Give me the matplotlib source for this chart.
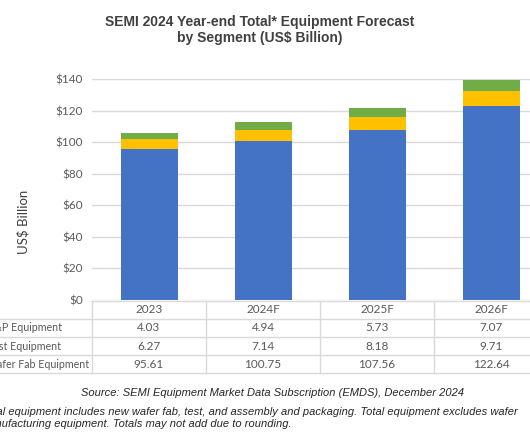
import matplotlib
matplotlib.use("Agg")
import matplotlib.pyplot as plt
from matplotlib.lines import Line2D

categories = ["2023", "2024F", "2025F", "2026F"]
wafer_fab = [95.61, 100.75, 107.56, 122.64]
test_eq = [6.27, 7.14, 8.18, 9.71]
ap_eq = [4.03, 4.94, 5.73, 7.07]
row_labels = ["A&P Equipment", "Test Equipment", "Wafer Fab Equipment"]
row_values = [ap_eq, test_eq, wafer_fab]
row_fmt = ["{:.2f}", "{:.2f}", "{:.2f}"]
yticks = [0, 20, 40, 60, 80, 100, 120, 140]

W, H = 530, 442
fig = plt.figure(figsize=(W / 100, H / 100), dpi=100)
fig.patch.set_facecolor("white")

def fx(px):
    return px / W

def fy(py):
    return 1 - py / H

txt_font = ["Lato", "DejaVu Sans"]
head_font = ["Liberation Sans", "DejaVu Sans"]
grey = "#595959"
dark = "#404040"
gridc = "#d9d9d9"

# main axes
x0, x1 = 92, 548
ytop, ybot = 79, 300
ax = fig.add_axes([fx(x0), fy(ybot), fx(x1) - fx(x0), (ybot - ytop) / H])
xs = list(range(len(categories)))
bw = 0.5
ax.bar(xs, wafer_fab, bw, color="#4472C4", zorder=3)
b2 = [a for a in wafer_fab]
ax.bar(xs, test_eq, bw, bottom=b2, color="#FFC000", zorder=3)
b3 = [a + b for a, b in zip(wafer_fab, test_eq)]
ax.bar(xs, ap_eq, bw, bottom=b3, color="#70AD47", zorder=3)
ax.set_xlim(-0.5, len(categories) - 0.5)
ax.set_ylim(0, 140)
ax.set_yticks(yticks)
ax.set_yticklabels(["${}".format(v) for v in yticks], fontsize=8.5, color=grey, family=txt_font)
ax.tick_params(axis="y", length=0, pad=6.5)
ax.set_xticks([])
ax.grid(axis="y", color=gridc, linewidth=1, zorder=0)
for s in ax.spines.values():
    s.set_visible(False)
ax.set_facecolor("none")

# y label
fig.text(fx(23), fy(222), "US$ Billion", rotation=90, ha="center", va="center",
         fontsize=9.5, color=dark, family=txt_font)

# title
fig.text(fx(260), fy(22), "SEMI 2024 Year-end Total* Equipment Forecast",
         ha="center", va="center", fontsize=10, fontweight="bold", color=dark, family=head_font)
fig.text(fx(260), fy(38), "by Segment (US$ Billion)",
         ha="center", va="center", fontsize=10, fontweight="bold", color=dark, family=head_font)

# data table
tab = fig.add_axes([fx(x0), fy(373), fx(x1) - fx(x0), (373 - 301) / H])
tab.set_xlim(-0.5, len(categories) - 0.5)
tab.set_ylim(373, 301)
tab.axis("off")
row_lines = [301, 318.5, 337, 355, 373]
tab.add_line(Line2D([-0.5, len(categories) - 0.5], [301, 301], color=gridc, lw=1, clip_on=False))
for yl in row_lines[1:]:
    tab.plot([-2.0, len(categories) - 0.5], [yl, yl], color=gridc, lw=1, clip_on=False)
for i in range(len(categories) + 1):
    tab.plot([i - 0.5, i - 0.5], [301, 373], color=gridc, lw=1, clip_on=False)
header_y = (row_lines[0] + row_lines[1]) / 2
for i, c in enumerate(categories):
    tab.text(i, header_y, c, ha="center", va="center", fontsize=8.5, color=grey, family=txt_font)
label_ends = [62, 61, 89]
for r, (lab, vals, fmt) in enumerate(zip(row_labels, row_values, row_fmt)):
    yc = (row_lines[r + 1] + row_lines[r + 2]) / 2
    fig.text(fx(label_ends[r]), fy(yc), lab, ha="right", va="center", fontsize=7.7,
             color=grey, family=txt_font)
    for i, v in enumerate(vals):
        tab.text(i, yc, fmt.format(v), ha="center", va="center", fontsize=8.5, color=grey, family=txt_font)

# source and footnote
fig.text(fx(273), fy(393), "Source: SEMI Equipment Market Data Subscription (EMDS), December 2024",
         ha="center", va="center", fontsize=8, style="italic", color="#262626", family=head_font)
fig.text(fx(518), fy(412), "*Total equipment includes new wafer fab, test, and assembly and packaging. Total equipment excludes wafer",
         ha="right", va="center", fontsize=8, style="italic", color="#262626", family=head_font)
fig.text(fx(292), fy(424), "manufacturing equipment. Totals may not add due to rounding.",
         ha="right", va="center", fontsize=8, style="italic", color="#262626", family=head_font)

fig.savefig("out.png", dpi=100)
